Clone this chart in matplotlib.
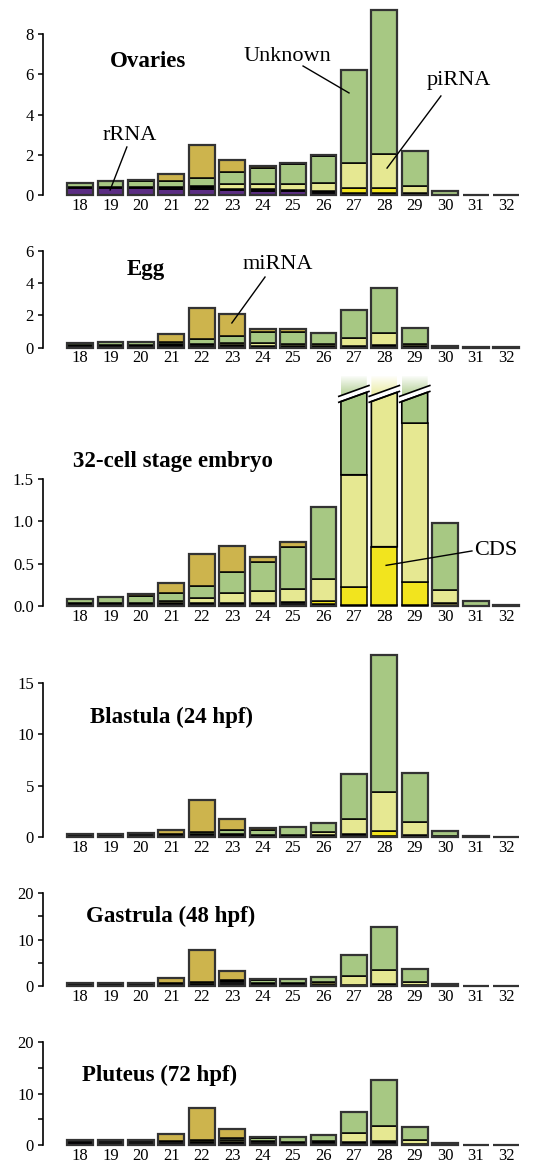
import numpy as np
import matplotlib
matplotlib.use("Agg")
import matplotlib.pyplot as plt
from matplotlib.patches import Polygon, Rectangle
from matplotlib.colors import to_rgb

plt.rcParams['font.family'] = ['Liberation Serif', 'DejaVu Serif']

lengths = list(range(18, 33))
zeros = [0] * 15

# ---- (segment heights, bottom to top) ----
ovaries_rrna = [0.33, 0.33, 0.35, 0.28, 0.28, 0.25, 0.22, 0.20, 0.08, 0, 0, 0, 0, 0, 0]
ovaries_other = [0.05, 0.05, 0.05, 0.12, 0.12, 0.05, 0.06, 0.06, 0.12, 0.08, 0.08, 0.08, 0, 0.02, 0.02]
ovaries_cds = [0, 0, 0, 0, 0, 0, 0, 0, 0, 0.25, 0.28, 0, 0, 0, 0]
ovaries_pirna = [0, 0, 0, 0, 0.06, 0.25, 0.28, 0.30, 0.40, 1.25, 1.67, 0.35, 0, 0, 0]
ovaries_unknown = [0.24, 0.34, 0.32, 0.32, 0.41, 0.60, 0.77, 0.96, 1.35, 4.66, 7.20, 1.77, 0.22, 0, 0]
ovaries_mirna = [0, 0, 0.03, 0.33, 1.62, 0.60, 0.12, 0.08, 0.03, 0, 0, 0, 0, 0, 0]

egg_other = [0.15, 0.17, 0.17, 0.15, 0.20, 0.15, 0.12, 0.10, 0.10, 0.12, 0.15, 0.10, 0.10, 0.02, 0.02]
egg_pirna = [0, 0, 0, 0.05, 0.05, 0.15, 0.18, 0.15, 0.12, 0.48, 0.73, 0.15, 0, 0, 0]
egg_unknown = [0.16, 0.20, 0.20, 0.15, 0.29, 0.44, 0.65, 0.70, 0.66, 1.73, 2.83, 0.99, 0.03, 0, 0]
egg_mirna = [0, 0, 0, 0.47, 1.93, 1.34, 0.23, 0.18, 0, 0, 0, 0, 0, 0, 0]

embryo_other = [0.03, 0.03, 0.03, 0.03, 0.04, 0.03, 0.04, 0.05, 0.02, 0.01, 0.01, 0.01, 0, 0, 0.01]
embryo_olive = [0, 0, 0, 0, 0, 0, 0, 0, 0, 0, 0, 0, 0.03, 0, 0]
embryo_cds = [0, 0, 0, 0, 0, 0, 0, 0, 0.04, 0.22, 0.69, 0.27, 0, 0, 0]
embryo_pirna = [0, 0, 0, 0.03, 0.05, 0.12, 0.14, 0.15, 0.26, 1.32, 1.77, 1.88, 0.16, 0, 0]
embryo_unknown = [0.057, 0.08, 0.09, 0.09, 0.15, 0.25, 0.34, 0.50, 0.85, 0.92, 0, 0.31, 0.79, 0.063, 0]
embryo_mirna = [0, 0, 0.02, 0.12, 0.38, 0.31, 0.055, 0.05, 0, 0, 0, 0, 0, 0, 0]
embryo_broken = [27, 28, 29]  # bars cut off at the top of the panel

blastula_other = [0.26, 0.26, 0.39, 0.30, 0.30, 0.20, 0.20, 0.20, 0.15, 0.25, 0.10, 0.20, 0.10, 0.10, 0.03]
blastula_cds = [0, 0, 0, 0, 0, 0, 0, 0, 0, 0, 0.45, 0, 0, 0, 0]
blastula_pirna = [0, 0, 0, 0, 0, 0.10, 0, 0, 0.30, 1.52, 3.88, 1.23, 0, 0, 0]
blastula_unknown = [0, 0, 0, 0, 0.15, 0.35, 0.50, 0.78, 0.89, 4.33, 13.31, 4.83, 0.49, 0, 0]
blastula_mirna = [0, 0, 0, 0.42, 3.14, 1.14, 0.18, 0, 0, 0, 0, 0, 0, 0, 0]

gastrula_other = [0.65, 0.60, 0.70, 0.70, 0.50, 1.00, 0.70, 0.60, 0.30, 0.30, 0.30, 0.20, 0.50, 0.10, 0.10]
gastrula_olive = [0, 0, 0, 0, 0.40, 0, 0, 0, 0.60, 0, 0.20, 0, 0, 0, 0]
gastrula_pirna = [0, 0, 0, 0, 0, 0, 0, 0, 0, 1.90, 3.00, 0.75, 0, 0, 0]
gastrula_unknown = [0, 0, 0, 0, 0, 0.20, 0.50, 0.84, 1.10, 4.50, 9.16, 2.65, 0, 0, 0]
gastrula_mirna = [0, 0, 0, 1.03, 6.87, 2.10, 0.30, 0, 0, 0, 0, 0, 0, 0, 0]

pluteus_rrna = [0.35, 0, 0, 0, 0, 0.40, 0, 0, 0, 0, 0, 0, 0, 0, 0]
pluteus_other = [0.55, 0.90, 0.95, 0.70, 0.50, 0.10, 0.70, 0.60, 0.50, 0.50, 0.50, 0.20, 0.40, 0.05, 0.05]
pluteus_olive = [0, 0, 0, 0, 0.50, 0, 0, 0, 0, 0, 0.20, 0, 0, 0, 0]
pluteus_pirna = [0, 0, 0, 0, 0, 0.40, 0, 0, 0.30, 1.75, 2.95, 0.80, 0, 0, 0]
pluteus_unknown = [0, 0, 0, 0, 0, 0.50, 0.60, 0.90, 1.20, 4.10, 8.99, 2.45, 0, 0, 0]
pluteus_mirna = [0, 0, 0, 1.50, 6.23, 1.73, 0.33, 0.13, 0, 0, 0, 0, 0, 0, 0]

layer_order = ["rrna", "other", "olive", "cds", "pirna", "unknown", "mirna"]
layer_colors = {
    "rrna": "#5b2d83",
    "other": "#141414",
    "olive": "#5e5a2e",
    "cds": "#f2e41e",
    "pirna": "#e6e892",
    "unknown": "#a7c883",
    "mirna": "#cdb44d",
}

W, H = 545, 1165
BAR_W = 0.85


def px_axes(fig, y0, top):
    # axes whose y=0 sits at pixel row y0 and whose top edge is at pixel row top
    return fig.add_axes([43 / W, 1 - y0 / H, 497 / W, (y0 - top) / H])


def draw_panel(ax, layers, broken=()):
    bottom = np.zeros(len(lengths))
    segs = [(name, np.asarray(layers.get(name, zeros), float)) for name in layer_order]
    totals = sum(v for _, v in segs)
    for i, x in enumerate(lengths):
        nonzero = [(n, v[i]) for n, v in segs if v[i] > 0]
        b = 0.0
        for k, (name, h) in enumerate(nonzero):
            col = layer_colors[name]
            xl, xr = x - BAR_W / 2, x + BAR_W / 2
            if x in broken and k == len(nonzero) - 1:
                yc, d, g = b + h, 0.055, 0.07
                ax.add_patch(Polygon([(xl, b), (xr, b), (xr, yc + d), (xl, yc - d)],
                                     closed=True, facecolor=col, edgecolor='black',
                                     lw=1.2, clip_on=False, zorder=2))
                ytop = yc + 0.26
                clip = Polygon([(xl, yc - d + g), (xr, yc + d + g), (xr, ytop), (xl, ytop)],
                               closed=True, facecolor='none', edgecolor='none',
                               transform=ax.transData)
                ax.add_patch(clip)
                rgb = to_rgb(col)
                grad = np.zeros((64, 2, 4))
                grad[..., :3] = rgb
                grad[..., 3] = np.linspace(0.9, 0.0, 64)[:, None]
                im = ax.imshow(grad, extent=[xl, xr, yc - d + g, ytop], origin='lower',
                               aspect='auto', zorder=1, interpolation='bilinear')
                im.set_clip_path(clip)
                ext = 0.07
                sx = np.array([xl - ext, xr + ext])
                sy = yc - d + (sx - xl) * (2 * d / BAR_W)
                ax.plot(sx, sy, color='black', lw=1.2, zorder=3, clip_on=False)
                ax.plot(sx, sy + g, color='black', lw=1.2, zorder=3, clip_on=False)
            else:
                ax.add_patch(Rectangle((xl, b), BAR_W, h, facecolor=col, edgecolor='black',
                                       lw=1.1, clip_on=False, zorder=2))
            b += h
        if x not in broken and totals[i] > 0:
            ax.add_patch(Rectangle((x - BAR_W / 2, 0), BAR_W, totals[i], facecolor='none',
                                   edgecolor='#333333', lw=1.6, clip_on=False, zorder=3))
        bottom[i] = b


def style(ax, ytop, ticks, labels, minor=None):
    ax.set_xlim(16.784, 16.784 + 497 / 30.43)
    ax.set_ylim(0, ytop)
    for s in ['top', 'right', 'bottom']:
        ax.spines[s].set_visible(False)
    ax.spines['left'].set_bounds(0, ticks[-1])
    ax.spines['left'].set_linewidth(1.2)
    ax.set_yticks(ticks)
    ax.set_yticklabels(labels)
    if minor is not None:
        ax.set_yticks(minor, minor=True)
        ax.tick_params(axis='y', which='minor', length=3.6, width=1.1)
    ax.set_xticks(lengths)
    ax.set_xticklabels([str(v) for v in lengths])
    ax.tick_params(axis='x', length=0, pad=2, labelsize=12)
    ax.tick_params(axis='y', length=3.6, width=1.1, pad=3, labelsize=12)
    ax.patch.set_alpha(0)


fig = plt.figure(figsize=(W / 100, H / 100), dpi=100)

title_kw = dict(fontsize=16.5, fontweight='bold', va='baseline', ha='left')
note_kw = dict(fontsize=16, va='baseline', ha='center')

# Ovaries
ax1 = px_axes(fig, 195, 5)
draw_panel(ax1, dict(rrna=ovaries_rrna, other=ovaries_other, cds=ovaries_cds,
                     pirna=ovaries_pirna, unknown=ovaries_unknown, mirna=ovaries_mirna))
style(ax1, 190 / 20.09, [0, 2, 4, 6, 8], ['0', '2', '4', '6', '8'])
fig.text(110 / W, 1 - 66.7 / H, "Ovaries", **title_kw)
ax1.text(24.80, 6.67, "Unknown", **note_kw)
ax1.plot([25.33, 26.84], [6.42, 5.08], color='black', lw=1, zorder=4)
ax1.text(30.45, 5.48, "piRNA", **note_kw)
ax1.plot([29.86, 28.09], [4.93, 1.34], color='black', lw=1, zorder=4)
ax1.text(19.64, 2.74, "rRNA", **note_kw)
ax1.plot([19.54, 18.99], [2.39, 0.25], color='black', lw=1, zorder=4)

# Egg
ax2 = px_axes(fig, 347.7, 240)
draw_panel(ax2, dict(other=egg_other, pirna=egg_pirna, unknown=egg_unknown, mirna=egg_mirna))
style(ax2, 107.7 / 16.17, [0, 2, 4, 6], ['0', '2', '4', '6'])
fig.text(127 / W, 1 - 275 / H, "Egg", **title_kw)
ax2.text(24.51, 4.85, "miRNA", **note_kw)
ax2.plot([24.08, 22.99], [4.37, 1.53], color='black', lw=1, zorder=4)

# 32-cell stage embryo
ax3 = px_axes(fig, 606, 376)
draw_panel(ax3, dict(other=embryo_other, olive=embryo_olive, cds=embryo_cds,
                     pirna=embryo_pirna, unknown=embryo_unknown, mirna=embryo_mirna),
           broken=embryo_broken)
style(ax3, 230 / 84.67, [0, 0.5, 1.0, 1.5], ['0.0', '0.5', '1.0', '1.5'])
fig.text(73 / W, 1 - 466.7 / H, "32-cell stage embryo", **title_kw)
ax3.text(30.95, 0.60, "CDS", fontsize=16, va='baseline', ha='left')
ax3.plot([30.88, 28.06], [0.65, 0.48], color='black', lw=1, zorder=4)

# Blastula
ax4 = px_axes(fig, 837, 650)
draw_panel(ax4, dict(other=blastula_other, cds=blastula_cds, pirna=blastula_pirna,
                     unknown=blastula_unknown, mirna=blastula_mirna))
style(ax4, 187 / 10.27, [0, 5, 10, 15], ['0', '5', '10', '15'])
fig.text(90 / W, 1 - 723.3 / H, "Blastula (24 hpf)", **title_kw)

# Gastrula
ax5 = px_axes(fig, 986, 885)
draw_panel(ax5, dict(other=gastrula_other, olive=gastrula_olive, pirna=gastrula_pirna,
                     unknown=gastrula_unknown, mirna=gastrula_mirna))
style(ax5, 101 / 4.65, [0, 10, 20], ['0', '10', '20'], minor=[5, 15])
fig.text(86 / W, 1 - 921.7 / H, "Gastrula (48 hpf)", **title_kw)

# Pluteus
ax6 = px_axes(fig, 1145, 1035)
draw_panel(ax6, dict(rrna=pluteus_rrna, other=pluteus_other, olive=pluteus_olive,
                     pirna=pluteus_pirna, unknown=pluteus_unknown, mirna=pluteus_mirna))
style(ax6, 110 / 5.15, [0, 10, 20], ['0', '10', '20'], minor=[5, 15])
fig.text(82 / W, 1 - 1080.7 / H, "Pluteus (72 hpf)", **title_kw)

fig.savefig("out.png", dpi=100)
